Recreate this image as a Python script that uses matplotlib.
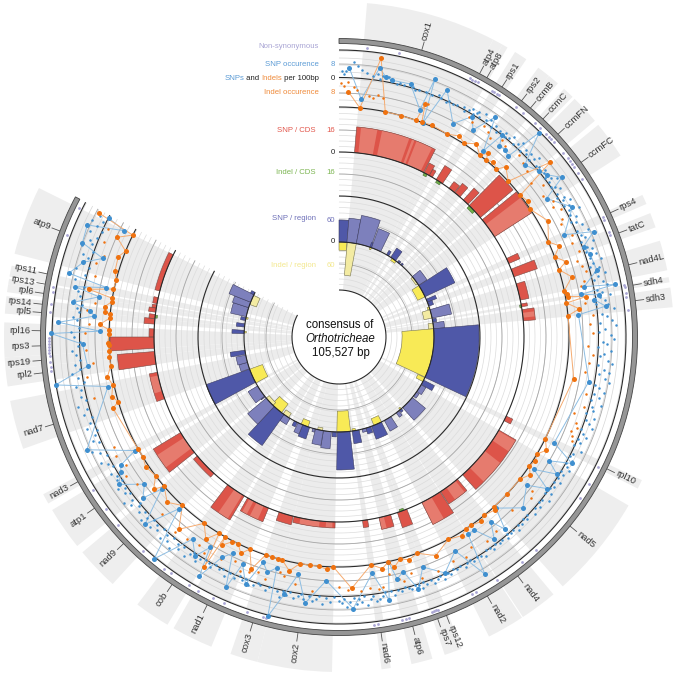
"""Circular plot of SNPs and indels over the Orthotricheae mitogenome consensus."""

import matplotlib

matplotlib.use("Agg")
import matplotlib.pyplot as plt
import numpy as np

plt.rcParams["font.family"] = ["Liberation Sans", "DejaVu Sans"]

# Position along the genome is given in degrees of the circle (0 at the top, clockwise)
SPAN = 298.0

GENES = ["cox1", "atp4", "atp8", "rps1", "rps2", "ccmB", "ccmC", "ccmFN", "ccmFC", "rps4",
         "tatC", "nad4L", "sdh4", "sdh3", "rpl10", "nad5", "nad4", "nad2", "rps12", "rps7",
         "atp6", "nad6", "cox2", "cox3", "nad1", "cob", "nad9", "atp1", "nad3", "nad7",
         "rpl2", "rps19", "rps3", "rpl16", "rpl5", "rps14", "rpl6", "rps13", "rps11", "atp9"]
GENE_START = [4.8, 27.4, 29.2, 31.7, 36.5, 38.8, 42.2, 44.7, 50.7, 64.9,
              68.3, 73.3, 79.7, 81.5, 115.3, 120.2, 140.2, 146.9, 158.5, 160.0,
              163.8, 171.1, 181.2, 194.1, 202.4, 210.8, 222.5, 231.4, 240.2, 250.5,
              261.5, 264.5, 266.5, 270.0, 274.0, 275.7, 277.7, 279.0, 280.4, 284.4]
GENE_END = [27.4, 29.2, 30.2, 34.0, 38.8, 40.8, 44.2, 49.8, 57.2, 66.6,
            70.9, 78.5, 80.6, 84.9, 116.9, 138.1, 146.7, 153.4, 160.0, 161.6,
            167.5, 172.7, 194.1, 198.9, 209.6, 217.0, 230.0, 238.9, 242.0, 259.0,
            264.5, 266.5, 270.0, 272.5, 275.7, 277.0, 279.0, 280.0, 282.3, 296.4]
LABEL_ANGLE = [16.1, 28.1, 29.7, 33.1, 37.7, 39.9, 43.1, 47.2, 54.2, 65.4,
               69.6, 76.0, 80.0, 83.0, 116.2, 129.3, 143.2, 150.2, 158.9, 160.7,
               165.7, 171.9, 187.9, 196.8, 206.2, 214.0, 226.2, 235.0, 241.0, 253.0,
               263.1, 265.5, 268.3, 271.2, 274.7, 276.3, 278.4, 280.2, 282.2, 290.8]

NONSYN = [5.5, 11.9, 26.8, 27.4, 28.0, 28.6, 31.8, 32.4, 33.0, 33.5, 37.5, 39.3, 42.4, 43.9, 45.5,
          46.3, 47.0, 47.8, 50.6, 52.0, 52.7, 53.4, 54.0, 55.6, 57.0, 65.6, 66.1, 68.8, 69.4,
          79.6, 80.1, 81.3, 82.0, 84.6, 116.7, 120.4, 123.7, 137.3, 141.0, 147.0, 151.7, 152.6,
          160.0, 160.4, 160.8, 161.2, 166.0, 166.7, 167.4, 172.3, 173.0, 194.6, 195.2, 198.5,
          203.3, 205.7, 209.0, 211.2, 215.5, 217.0, 222.5, 229.5, 233.6, 238.2, 263.3, 264.0,
          265.0, 266.2, 266.8, 267.4, 268.0, 268.6, 269.2, 269.8, 275.0, 276.5, 279.0, 279.9,
          290.5, 296.5]

# Occurrence tracks, in grid steps above the inner black line of the track
SNP_OCC_THETA = [2.2, 5.3, 8.6, 10.2, 11.6, 15.8, 19.6, 20.4, 21.4, 23.6, 28.1, 31.1, 32.9, 35.4,
                 37.8, 38.9, 40.0, 41.5, 43.1, 44.4, 47.2, 50.3, 52.0, 54.4, 56.3, 60.9, 65.6,
                 67.5, 69.7, 71.8, 75.4, 78.4, 79.2, 80.0, 80.8, 81.7, 83.4, 84.7, 100.1, 116.2,
                 118.5, 120.5, 122.2, 124.2, 126.1, 128.3, 132.9, 137.5, 139.2, 140.6, 142.5,
                 145.0, 146.8, 148.4, 151.5, 155.8, 160.0, 162.5, 164.7, 166.5, 167.6, 169.2,
                 172.0, 177.0, 183.0, 187.3, 189.7, 192.0, 194.3, 195.1, 196.9, 198.6, 200.7,
                 203.0, 204.3, 206.2, 208.0, 210.3, 211.5, 213.3, 215.9, 219.8, 223.0, 226.0,
                 229.4, 230.6, 232.9, 236.2, 238.2, 239.6, 240.9, 245.9, 257.9, 260.4, 263.4,
                 268.4, 270.7, 271.4, 273.0, 274.9, 276.0, 277.4, 279.5, 280.8, 282.0, 283.3,
                 286.3, 288.4, 290.2, 294.0, 296.3, 297.3]
SNP_OCC_VAL = [5.6, 1.3, 6.0, 4.9, 4.6, 4.7, 1.6, 6.5, 0.0, 5.7, 1.7, 3.9, 2.4, 5.7,
               0.8, 4.2, 2.8, 2.9, 2.5, 8.0, 3.3, 4.3, 4.8, 6.3, 2.8, 5.3, 2.5,
               6.5, 4.4, 4.9, 5.2, 2.9, 7.3, 2.3, 4.8, 4.0, 5.5, 1.5, 3.4, 1.4,
               5.0, 2.0, 3.9, 0.8, 3.9, 1.3, 3.0, 0.3, 3.4, 1.3, 3.6,
               0.8, 0.8, 6.9, 1.9, 4.1, 2.1, 4.9, 1.9, 2.7, 0.0, 5.4,
               1.2, 6.0, 2.0, 5.5, 1.5, 4.7, 8.3, 1.3, 2.3, 1.1, 4.9,
               2.4, 6.4, 1.6, 2.8, 6.7, 2.4, 4.6, 2.8, 8.4, 0.7, 5.7,
               0.5, 3.4, 2.0, 5.0, 3.8, 3.3, 0.5, 6.6, 0.9, 8.2, 3.3,
               3.8, 8.3, 1.3, 7.3, 2.2, 2.9, 5.5, 1.9, 5.5, 1.1, 6.8,
               5.2, 2.7, 6.2, 6.5, 1.4, 4.1]

INDEL_OCC_THETA = [2.2, 5.2, 8.6, 11.6, 15.7, 19.6, 20.3, 21.1, 23.6, 28.1, 30.9, 32.8, 35.4, 37.7,
                   39.0, 39.8, 41.4, 43.2, 44.4, 47.4, 50.4, 52.0, 54.3, 56.3, 60.9, 65.6, 67.5,
                   69.6, 71.6, 73.0, 75.5, 78.4, 79.2, 80.0, 80.7, 81.5, 83.3, 84.7, 100.1, 116.2,
                   118.6, 120.6, 122.2, 124.1, 125.8, 128.2, 133.0, 137.6, 137.9, 140.8, 142.4,
                   145.0, 146.5, 148.3, 151.6, 156.1, 160.1, 162.6, 164.6, 166.5, 167.6, 169.4,
                   172.0, 177.1, 181.4, 183.0, 184.9, 187.2, 189.8, 192.0, 194.3, 195.3, 197.0,
                   198.6, 200.7, 202.8, 204.4, 206.0, 207.5, 209.4, 209.7, 210.4, 211.4, 213.4,
                   215.9, 219.8, 222.9, 226.1, 229.5, 230.6, 232.9, 236.1, 238.5, 240.8, 252.5,
                   253.7, 255.3, 258.0, 260.3, 262.8, 265.1, 266.5, 268.0, 268.4, 270.7, 271.8,
                   273.0, 274.7, 275.7, 276.2, 277.4, 278.8, 279.7, 280.8, 282.0, 284.3, 286.4,
                   290.0, 291.9, 294.2, 296.3, 297.3]
INDEL_OCC_VAL = [2.2, 0.0, 7.4, 0.0, 0.0, 0.0, 2.6, 0.0, 0.2, 0.0, 0.6, 0.1, 1.0, 0.0,
                 0.9, 0.0, 0.5, 0.0, 1.2, 0.0, 6.3, 0.0, 0.4, 0.0, 1.3, 0.0, 1.2,
                 0.0, 1.3, 0.0, 1.5, 0.0, 0.3, 0.4, 2.9, 0.0, 1.7, 0.0, 1.2, 0.0,
                 0.9, 0.0, 0.3, 0.0, 0.8, 0.0, 0.0, 0.0, 0.4, 0.0, 0.4,
                 0.0, 0.0, 0.5, 0.0, 1.3, 0.0, 0.5, 0.0, 1.0, 0.0, 0.8,
                 0.0, 3.1, 0.0, 0.4, 0.0, 0.0, 0.0, 1.3, 0.0, 0.0, 0.0,
                 0.0, 2.6, 0.0, 1.1, 0.0, 0.1, 1.3, 0.0, 5.2, 0.0, 1.7,
                 0.0, 2.9, 0.0, 1.2, 0.0, 1.4, 0.0, 0.4, 0.0, 0.0, 1.0,
                 0.0, 0.7, 0.2, 0.7, 0.0, 0.1, 0.0, 0.0, 0.2, 0.0, 0.0,
                 1.4, 0.0, 0.0, 0.8, 0.9, 0.0, 0.0, 3.5, 0.1, 0.0, 0.5,
                 0.7, 0.0, 1.9, 0.0, 5.7]

# SNPs per 100 bp (small blue) and indels per 100 bp (small orange)
SNP_RATE_THETA = [0.6, 1.0, 1.5, 3.2, 4.0, 5.0, 6.0, 7.5, 8.5, 9.0, 9.5, 10.8, 12.0, 13.0, 13.5, 14.5,
                  16.5, 17.0, 18.0, 19.5, 21.0, 22.5, 23.0, 24.5, 25.0, 26.0, 27.0, 28.5, 29.0,
                  29.8, 30.5, 31.0, 31.6, 32.0, 32.5, 33.4, 34.0, 35.0, 36.0, 36.8, 37.5, 38.0, 39.2,
                  39.8, 40.5, 41.2, 42.0, 42.8, 43.5, 44.2, 45.0, 45.6, 46.4, 47.0, 47.6, 48.2, 49.0,
                  49.6, 50.4, 51.0, 51.4, 52.4, 53.0, 53.6, 54.0, 54.8, 55.2, 56.0, 56.8, 57.4, 58.0,
                  58.6, 59.2, 59.8, 60.2, 61.0, 61.6, 62.2, 63.0, 63.6, 64.2, 65.0, 66.0, 66.6, 67.2,
                  68.0, 68.6, 69.0, 70.0, 70.6, 71.0, 72.0, 72.6, 73.2, 73.8, 74.4, 75.0, 75.8, 76.2,
                  76.8, 77.4, 78.0, 78.8, 79.6, 80.4, 81.0, 81.4, 82.0, 82.6, 83.0, 84.0, 85.0, 85.6,
                  86.4, 87.0, 87.6, 88.2, 89.0, 89.6, 90.4, 91.0, 91.6, 92.2, 93.0, 93.6, 94.2, 95.0,
                  95.6, 96.2, 97.0, 97.6, 98.2, 99.0, 99.6, 100.6, 101.2, 102.0, 102.6, 103.2, 104.0,
                  104.8, 105.4, 106.2, 107.0, 107.8, 108.6, 109.2, 110.0, 110.8, 111.6, 112.2, 113.0,
                  113.8, 114.6, 115.4, 116.6, 117.2, 118.0, 119.0, 119.6, 120.2, 121.0, 121.6, 122.8,
                  123.4, 124.0, 125.0, 125.6, 126.6, 127.2, 128.0, 128.8, 129.6, 130.2, 131.0, 132.0,
                  133.4, 134.0, 134.8, 135.6, 136.4, 137.0, 138.0, 138.8, 139.6, 140.0, 141.2, 142.0,
                  143.0, 143.8, 144.4, 145.4, 146.2, 147.0, 147.8, 149.0, 149.6, 150.4, 151.0, 152.2,
                  153.0, 153.8, 154.6, 155.2, 156.4, 157.0, 157.8, 158.6, 159.2, 160.4, 161.0, 161.6,
                  162.2, 163.0, 163.8, 164.4, 165.2, 166.0, 167.0, 167.8, 168.4, 169.8, 170.4, 171.0,
                  171.8, 172.4, 173.0, 173.8, 174.4, 175.0, 175.6, 176.2, 176.8, 177.6, 178.2, 178.8,
                  179.4, 180.0, 181.0, 182.0, 182.8, 183.6, 184.4, 185.0, 185.8, 186.6, 187.8, 188.4,
                  189.0, 190.0, 190.8, 191.6, 192.4, 193.0, 193.8, 195.6, 196.4, 197.6, 198.2, 199.2,
                  200.2, 201.0, 201.8, 202.6, 203.6, 204.8, 205.6, 206.6, 207.4, 208.4, 209.2, 210.0,
                  210.8, 212.0, 212.6, 213.8, 214.4, 215.2, 216.4, 217.2, 218.0, 218.8, 219.4, 220.2,
                  221.0, 221.8, 222.4, 223.4, 224.0, 224.8, 225.4, 226.6, 227.2, 228.0, 228.8, 229.8,
                  230.2, 231.0, 231.8, 232.4, 233.2, 234.0, 234.8, 235.4, 236.6, 237.2, 238.0, 239.0,
                  240.2, 241.2, 242.2, 243.0, 244.0, 245.0, 246.4, 247.0, 248.0, 249.0, 250.0, 251.0,
                  252.0, 253.0, 254.0, 255.0, 256.0, 257.0, 258.4, 259.2, 260.0, 261.0, 262.0, 263.0,
                  264.0, 265.0, 266.0, 267.0, 268.0, 269.0, 270.0, 271.0, 272.0, 273.6, 274.4, 275.4,
                  276.4, 277.0, 278.0, 279.0, 280.0, 281.0, 282.4, 283.8, 284.6, 285.4, 286.6, 287.4,
                  288.0, 289.0, 289.8, 290.6, 291.4, 292.2, 293.0, 293.8, 294.6, 295.4, 296.0, 296.8]
SNP_RATE_VAL = [5.1, 4.7, 5.2, 6.5, 5.9, 5.4, 5.0, 4.8, 5.1, 4.4, 5.0, 4.9, 4.5, 4.2, 4.5, 4.3,
                4.4, 4.1, 4.2, 4.2, 4.1, 4.6, 4.3, 4.1, 4.3, 4.2, 4.4, 4.6, 4.1,
                4.5, 4.9, 4.3, 4.7, 5.0, 4.4, 5.3, 4.6, 4.9, 4.2, 4.7, 4.1, 4.4, 4.8,
                4.3, 4.6, 5.1, 4.2, 4.7, 5.4, 4.3, 4.9, 4.5, 5.0, 4.2, 4.8, 5.5, 4.4,
                4.7, 4.2, 5.1, 4.6, 4.3, 5.0, 4.5, 5.7, 4.2, 4.8, 5.3, 4.4, 4.1, 5.0,
                4.6, 5.6, 4.3, 5.0, 4.7, 6.1, 4.5, 5.2, 4.2, 4.8, 5.5, 4.4, 5.9, 4.6,
                5.1, 4.2, 6.0, 4.9, 5.4, 4.4, 5.8, 4.7, 6.2, 5.0, 4.3, 5.6, 4.8, 6.3,
                5.2, 4.4, 5.7, 6.1, 4.6, 5.3, 6.4, 4.9, 5.5, 4.2, 5.9, 6.6, 4.8, 5.6,
                6.2, 4.5, 6.8, 5.2, 4.3, 6.0, 6.5, 4.9, 5.5, 4.2, 6.1, 5.1, 4.6, 5.7,
                6.4, 4.4, 5.3, 6.0, 4.7, 5.6, 6.2, 4.3, 5.0, 5.8, 4.5, 5.3, 4.2,
                5.9, 4.6, 5.0, 4.1, 5.4, 4.4, 4.9, 5.6, 4.2, 4.7, 5.2, 4.3,
                4.8, 4.1, 5.4, 4.5, 4.2, 4.9, 4.3, 4.6, 5.1, 4.2, 4.7, 4.4,
                5.0, 4.2, 4.6, 4.3, 4.8, 4.1, 5.2, 4.4, 4.2, 4.7, 4.3, 4.9,
                4.2, 4.5, 4.1, 4.6, 4.3, 4.8, 4.2, 4.4, 4.1, 4.7, 4.3, 4.5,
                4.2, 4.6, 4.3, 4.1, 4.8, 4.4, 4.2, 4.5, 4.1, 4.3, 4.7, 4.2,
                4.4, 4.1, 4.6, 4.3, 4.8, 4.2, 4.5, 4.9, 4.3, 4.6, 4.2, 5.0,
                4.4, 4.2, 4.7, 4.3, 4.1, 4.5, 4.3, 4.8, 4.2, 4.1, 4.6, 5.0,
                5.3, 4.4, 4.9, 5.6, 4.3, 5.1, 4.7, 5.4, 4.5, 5.0, 5.7, 4.6,
                5.2, 4.8, 4.3, 5.0, 4.5, 5.3, 4.2, 4.7, 5.1, 4.4, 4.9, 4.3,
                4.6, 5.0, 4.2, 4.7, 4.3, 5.2, 4.5, 4.2, 4.8, 4.3, 4.1, 4.6,
                4.9, 4.2, 4.5, 4.1, 4.7, 4.3, 5.0, 4.2, 4.5, 4.1, 4.8, 4.4,
                4.2, 4.6, 5.2, 4.3, 4.8, 5.5, 4.4, 5.1, 4.6, 5.9, 4.3, 5.3,
                4.7, 5.6, 4.2, 5.0, 4.5, 5.4, 4.3, 4.8, 5.7, 4.4, 5.1, 4.6,
                4.2, 5.3, 4.7, 5.9, 4.4, 5.0, 4.6, 5.5, 4.2, 4.9, 4.5, 5.2,
                4.3, 4.8, 5.6, 4.4, 5.1, 6.0, 4.5, 5.3, 4.7, 4.2, 5.5, 4.8,
                4.3, 5.2, 4.6, 5.8, 4.4, 5.0, 4.7, 5.4, 4.2, 4.9, 5.6, 4.4,
                5.1, 4.3, 4.8, 5.3, 4.5, 4.1, 5.0, 5.5, 4.3, 4.7, 5.2, 4.4,
                4.8, 4.2, 5.4, 4.6, 5.0, 4.3, 5.7, 4.5, 6.0, 4.2, 5.2, 4.7,
                5.6, 4.3, 6.1, 4.9, 5.3, 4.5, 5.8, 4.2, 5.1, 6.2, 4.6, 5.4]

INDEL_RATE_THETA = [0.4, 1.2, 2.0, 3.4, 4.2, 7.0, 8.0, 9.2, 10.4, 20.8, 30.6, 31.8, 34.4, 36.0, 37.2, 39.6,
                    41.0, 44.8, 46.6, 48.6, 51.2, 53.4, 55.4, 57.6, 58.8, 60.0, 62.0, 63.0, 66.4,
                    68.0, 70.4, 72.2, 73.6, 75.0, 77.0, 78.0, 82.2, 85.0, 87.0, 89.0, 92.0, 94.0, 96.0,
                    98.0, 103.0, 106.0, 108.0, 110.0, 111.0, 112.0, 113.0, 114.0, 128.6, 130.0, 135.0,
                    139.0, 141.0, 144.0, 148.0, 150.0, 153.0, 157.0, 161.0, 163.0, 165.0, 166.0, 168.0,
                    170.0, 171.0, 173.0, 175.0, 178.0, 180.0, 186.0, 190.0, 193.0, 194.0, 197.0, 199.0,
                    201.0, 203.0, 205.0, 208.0, 212.0, 214.0, 217.0, 220.0, 225.0, 231.0, 234.0, 237.0,
                    239.0, 242.0, 244.0, 256.0, 261.0, 264.0, 267.0, 271.0, 273.0, 276.0, 278.0, 281.0,
                    284.0, 287.0, 289.0, 292.0, 295.0]
INDEL_RATE_VAL = [3.4, 3.0, 3.6, 2.9, 2.5, 1.9, 1.6, 2.2, 1.8, 2.8, 3.6, 3.2, 3.7, 3.4, 2.9, 3.6,
                  3.3, 3.7, 3.4, 3.0, 2.3, 3.5, 2.6, 3.4, 2.9, 3.7, 3.2, 2.7, 3.5,
                  3.0, 3.6, 2.8, 3.3, 3.7, 3.0, 2.5, 2.6, 3.6, 3.0, 3.4, 2.8, 3.5, 3.1,
                  2.7, 3.3, 3.6, 2.5, 3.1, 3.5, 2.9, 3.3, 3.6, 2.4, 3.0, 2.1,
                  3.4, 2.8, 3.1, 2.6, 3.5, 3.0, 3.4, 3.6, 2.4, 3.2, 2.7, 1.8,
                  3.4, 3.6, 3.2, 3.5, 3.3, 2.8, 3.6, 3.0, 2.2, 1.7, 3.3, 2.6,
                  3.1, 3.5, 2.4, 3.0, 3.5, 2.9, 3.3, 3.6, 3.0, 3.4, 2.8, 3.5,
                  2.6, 3.3, 2.9, 3.2, 3.6, 2.5, 3.3, 3.5, 2.9, 3.4, 2.4, 3.7,
                  3.1, 3.5, 2.7, 3.3, 3.6]

# SNP / CDS bars, height in grid steps above the CDS baseline
CDS_START = [4.8, 27.4, 29.2, 31.7, 36.5, 38.8, 42.2, 44.7, 50.7, 64.9, 68.5, 73.3, 79.7, 81.5,
             115.3, 120.2, 140.2, 146.9, 158.5, 163.8, 171.1, 181.2, 194.3, 202.4, 210.8, 222.5,
             231.4, 250.5, 261.5, 266.5, 270.0, 274.0, 275.7, 277.7, 279.0, 280.4, 284.4]
CDS_END = [27.2, 29.2, 30.3, 34.0, 38.6, 40.8, 44.2, 49.8, 57.2, 66.6, 71.0, 78.5, 80.6, 85.0,
           116.9, 138.1, 146.7, 153.4, 161.6, 167.5, 172.7, 194.0, 198.9, 209.6, 217.0, 230.0,
           238.9, 259.0, 265.5, 270.0, 272.5, 275.7, 277.0, 279.0, 280.0, 282.3, 296.4]
CDS_SNP = [4.7, 2.0, 1.3, 3.0, 1.5, 2.2, 2.9, 7.8, 8.0, 2.2, 4.5, 1.6, 1.1, 2.2,
           1.3, 3.6, 2.7, 4.5, 2.9, 2.2, 1.3, 1.1, 1.6, 2.7, 5.1, 0.9,
           5.8, 1.5, 6.8, 8.0, 0.9, 1.9, 1.1, 1.3, 0.8, 0.8, 0.9]
CDS_LIGHT_START = [6.0, 11.8, 20.3, 21.6, 52.5, 82.5, 120.5, 128.0, 141.0, 150.0, 166.0,
                   182.0, 186.0, 204.0, 207.5, 211.5, 233.0, 253.0]
CDS_LIGHT_END = [10.5, 19.5, 21.0, 26.2, 57.2, 84.0, 124.0, 135.0, 144.5, 153.4, 167.5,
                 184.0, 192.0, 206.5, 209.0, 214.5, 237.0, 258.0]
CDS_LIGHT_TOP = [4.7, 4.7, 4.7, 4.7, 8.0, 2.2, 3.6, 3.6, 2.7, 4.5, 2.2,
                 1.1, 1.1, 2.7, 2.7, 5.1, 5.8, 1.5]
INDEL_CDS_START = [27.4, 32.0, 44.8, 80.0, 159.5, 275.9]
INDEL_CDS_END = [28.5, 33.4, 47.2, 80.9, 160.8, 276.8]
INDEL_CDS_VAL = [0.5, 0.5, 0.6, 0.3, 0.4, 0.4]

# SNP / region bars in grid steps from the region baseline; REGION_DARK marks intergenic regions
REGION_START = [0.0, 4.8, 10.5, 19.0, 20.0, 30.0, 33.0, 38.0, 40.5, 50.5, 57.2, 66.6, 68.5, 73.3,
                79.0, 81.5, 85.0, 117.0, 120.2, 125.5, 129.5, 139.0, 141.0, 146.9, 153.5, 160.5,
                163.5, 167.8, 173.4, 181.5, 184.6, 189.5, 194.5, 198.0, 202.4, 206.0, 211.0,
                215.3, 223.0, 231.0, 231.6, 241.5, 250.5, 254.5, 259.5, 272.0, 276.0, 280.0,
                282.4, 288.0, 291.5, 296.4]
REGION_END = [4.8, 10.5, 19.5, 20.0, 26.0, 31.5, 36.5, 39.5, 41.5, 57.0, 64.9, 68.5, 71.0, 78.5,
              81.0, 85.0, 115.2, 120.0, 125.0, 128.5, 138.0, 140.5, 143.0, 151.5, 160.0, 163.5,
              166.0, 172.0, 181.0, 184.0, 189.4, 194.3, 196.0, 202.4, 205.5, 208.0, 215.5,
              223.0, 230.0, 231.4, 239.0, 250.3, 254.5, 259.0, 262.0, 274.0, 278.0, 281.8,
              288.0, 291.5, 296.4, 298.0]
REGION_SNP = [4.0, 4.4, 5.2, 0.9, 3.7, 0.9, 2.0, 0.4, 0.4, 1.8, 6.0, 1.8, 0.9, 3.6,
              0.7, 2.0, 8.2, 2.2, 1.0, 0.6, 3.1, 0.5, 1.0, 2.2, 2.5, 1.1,
              0.6, 2.3, 6.9, 0.9, 3.1, 2.7, 0.6, 2.2, 1.8, 0.9, 1.3,
              6.9, 4.4, 0.9, 2.0, 8.4, 1.6, 1.8, 2.7, 2.2, 1.5, 0.9,
              2.9, 3.1, 4.2, 0.7]
REGION_DARK = [1, 0, 0, 1, 0, 1, 1, 1, 1, 0, 1, 1, 1, 0,
               1, 0, 1, 1, 0, 0, 0, 1, 0, 0, 1, 1,
               0, 1, 1, 1, 0, 0, 0, 1, 0, 1, 0,
               1, 0, 1, 0, 1, 0, 0, 1, 1, 1, 1,
               0, 0, 0, 1]
INDEL_REGION_START = [0.0, 5.0, 19.0, 34.0, 50.8, 57.2, 71.5, 73.3, 81.5, 85.0, 115.3, 139.0, 153.4,
                      170.0, 173.0, 190.0, 199.0, 212.0, 217.2, 224.0, 241.0, 272.5, 281.0, 290.0]
INDEL_REGION_END = [4.8, 10.5, 20.0, 37.0, 56.0, 65.0, 73.0, 78.5, 85.0, 115.0, 118.0, 140.0, 158.5,
                    172.0, 181.3, 193.0, 203.5, 216.0, 225.0, 230.0, 250.2, 273.5, 282.0, 296.0]
INDEL_REGION_VAL = [1.5, 6.0, 0.4, 0.5, 0.4, 1.5, 0.4, 1.5, 0.9, 5.8, 1.4, 0.4, 1.3,
                    0.4, 3.8, 0.5, 1.1, 0.9, 2.0, 0.7, 2.5, 0.4, 0.4, 1.3]
INDEL_REGION_DARK = [1, 0, 1, 1, 0, 1, 1, 0, 0, 1, 1, 1, 1,
                     1, 1, 0, 1, 0, 1, 0, 1, 1, 1, 0]

CENTER_X, CENTER_Y = 339, 337
RMAX = 345
OCC_BASE = 230.0
OCC_STEP = 7.0
CDS_BASE = 185.0
REGION_BASE = 95.0
STEP = 5.5

RED = "#dd5449"
RED_LIGHT = "#e67b6e"
BLUE_DARK = "#4f58a8"
BLUE_LIGHT = "#7d80bc"
YELLOW_DARK = "#f8ea56"
YELLOW_LIGHT = "#f3eba2"
SNP_BLUE = "#3f8fcf"
INDEL_ORANGE = "#ef7210"


def arc(ax, r, color, lw, zorder=2):
    t = np.radians(np.linspace(0, SPAN, 900))
    ax.plot(t, np.full_like(t, r), color=color, lw=lw, zorder=zorder, solid_capstyle="butt")


def sector(ax, start, end, r0, r1, **kw):
    start, end = np.radians(start), np.radians(end)
    return ax.bar((start + end) / 2, r1 - r0, width=end - start, bottom=r0, **kw)


def add_text(x, y, s, **kw):
    return fig.text(x / 675, 1 - y / 675, s, va="center", **kw)


fig = plt.figure(figsize=(6.75, 6.75), dpi=100)
side = 2 * RMAX / 675
ax = fig.add_axes([(CENTER_X - RMAX) / 675, (675 - CENTER_Y - RMAX) / 675, side, side],
                  projection="polar")
ax.set_theta_zero_location("N")
ax.set_theta_direction(-1)
ax.set_rlim(0, RMAX)
ax.set_axis_off()

# gene sectors, inside the tracks and outside the ring
for s, e in zip(GENE_START, GENE_END):
    sector(ax, s, e, 47, 287, color="#ececec", lw=0, zorder=0)
    sector(ax, s, e, 298, 335, color="#eeeeee", lw=0, zorder=0)

# grid circles
for r in np.arange(47 + STEP, 141, STEP):
    arc(ax, r, "#dcdcdc", 0.5, zorder=1)
for r in np.arange(141 + STEP, 230, STEP):
    arc(ax, r, "#dcdcdc", 0.5, zorder=1)
for r in np.arange(OCC_BASE + OCC_STEP, 287, OCC_STEP):
    arc(ax, r, "#d6d6d6", 0.5, zorder=1)
for r in [73, 117, 163, 207, 244, 273]:
    arc(ax, r, "#a8a8a8", 0.6, zorder=1)

# region track
for s, e, v, d in zip(INDEL_REGION_START, INDEL_REGION_END, INDEL_REGION_VAL, INDEL_REGION_DARK):
    sector(ax, s, e, REGION_BASE - v * STEP, REGION_BASE, facecolor=YELLOW_DARK if d else YELLOW_LIGHT,
           edgecolor="#77744f", lw=0.4, zorder=3)
for s, e, v, d in zip(REGION_START, REGION_END, REGION_SNP, REGION_DARK):
    sector(ax, s, e, REGION_BASE, REGION_BASE + v * STEP, facecolor=BLUE_DARK if d else BLUE_LIGHT,
           edgecolor="#3c3c60", lw=0.4, zorder=3)

# CDS track
for s, e, v in zip(CDS_START, CDS_END, CDS_SNP):
    sector(ax, s, e, CDS_BASE, CDS_BASE + v * STEP, facecolor=RED, lw=0, zorder=3)
for s, e, v in zip(CDS_LIGHT_START, CDS_LIGHT_END, CDS_LIGHT_TOP):
    sector(ax, s, e, CDS_BASE, CDS_BASE + v * STEP, facecolor=RED_LIGHT, lw=0, zorder=3)
for s, e, v in zip(CDS_START, CDS_END, CDS_SNP):
    sector(ax, s, e, CDS_BASE, CDS_BASE + v * STEP, facecolor="none", edgecolor="#7a4a44",
           lw=0.4, zorder=3)
for s, e, v in zip(INDEL_CDS_START, INDEL_CDS_END, INDEL_CDS_VAL):
    sector(ax, s, e, CDS_BASE - v * STEP, CDS_BASE, facecolor="#6fb04a", edgecolor="#4c6e38",
           lw=0.4, zorder=3)

# black axis circles and the outer ring
for r in [47, REGION_BASE, 141, CDS_BASE, OCC_BASE, 259.5, 287]:
    arc(ax, r, "#2a2a2a", 0.8, zorder=4)
sector(ax, 0, SPAN, 293.5, 298.5, facecolor="#969696", edgecolor="#444444", lw=0.6, zorder=4)

# occurrence tracks
snp_order = np.argsort(SNP_OCC_THETA)
indel_order = np.argsort(INDEL_OCC_THETA)
snp_t = np.radians(SNP_OCC_THETA)[snp_order]
snp_r = OCC_BASE + np.array(SNP_OCC_VAL)[snp_order] * OCC_STEP
indel_t = np.radians(INDEL_OCC_THETA)[indel_order]
indel_r = OCC_BASE + np.array(INDEL_OCC_VAL)[indel_order] * OCC_STEP

ax.plot(snp_t, snp_r, color="#8dbde2", lw=0.7, zorder=5)
ax.plot(indel_t, indel_r, color="#f5ab70", lw=0.7, zorder=5)
ax.scatter(np.radians(SNP_RATE_THETA), OCC_BASE + np.array(SNP_RATE_VAL) * OCC_STEP, s=3.2,
           color=SNP_BLUE, lw=0, zorder=5)
ax.scatter(np.radians(INDEL_RATE_THETA), OCC_BASE + np.array(INDEL_RATE_VAL) * OCC_STEP, s=3.2,
           color=INDEL_ORANGE, lw=0, zorder=5)
ax.scatter(snp_t, snp_r, s=13, color=SNP_BLUE, lw=0, zorder=6)
ax.scatter(indel_t, indel_r, s=13, color=INDEL_ORANGE, lw=0, zorder=6)
ax.scatter(np.radians(NONSYN), np.full(len(NONSYN), 290), s=4, color="#a9a5d4", lw=0, zorder=5)

# gene labels on radial leader lines
for name, a in zip(GENES, LABEL_ANGLE):
    t = np.radians(a)
    ax.plot([t, t], [298.5, 307], color="#555555", lw=0.6, zorder=3)
    if a < 180:
        ax.text(t, 309, name, rotation=90 - a, rotation_mode="anchor", ha="left", va="center",
                fontsize=6.8, color="#333333", zorder=7)
    else:
        ax.text(t, 309, name, rotation=270 - a, rotation_mode="anchor", ha="right", va="center",
                fontsize=6.8, color="#333333", zorder=7)

# track legend, left of the start of the circle
FS = 5.6
add_text(319, 47, "Non-synonymous", ha="right", fontsize=FS, color="#a9a5d4")
add_text(319, 64, "SNP occurence", ha="right", fontsize=FS, color="#5b9bd5")
add_text(319, 93, "Indel occurence", ha="right", fontsize=FS, color="#ef8a3a")
add_text(316, 130, "SNP / CDS", ha="right", fontsize=FS, color="#e2574c")
add_text(316, 173, "Indel / CDS", ha="right", fontsize=FS, color="#7cb552")
add_text(316, 219, "SNP / region", ha="right", fontsize=FS, color="#6e70b8")
add_text(316, 266, "Indel / region", ha="right", fontsize=FS, color="#f3e88e")
for y, s, c in [(64, "8", "#5b9bd5"), (78, "0", "#222222"), (93, "8", "#ef8a3a"),
                (130, "16", "#e2574c"), (152, "0", "#222222"), (173, "16", "#7cb552"),
                (220, "60", "#6e70b8"), (242, "0", "#222222"), (266, "60", "#f3e88e")]:
    add_text(335, y, s, ha="right", fontsize=FS, color=c)

# mixed colour legend line, built right to left
renderer = fig.canvas.get_renderer()
x = 319.0
for s, c in [(" per 100bp", "#222222"), ("Indels", "#ef8a3a"), (" and ", "#222222"), ("SNPs", "#5b9bd5")]:
    tx = add_text(x, 78, s.replace(" ", "\u00a0"), ha="right", fontsize=FS, color=c)
    x -= tx.get_window_extent(renderer).width

add_text(340, 325, "consensus of", ha="center", fontsize=8.3, color="#111111")
add_text(340, 339, "Orthotricheae", ha="center", fontsize=8.3, style="italic", color="#111111")
add_text(341, 353, "105,527 bp", ha="center", fontsize=8.3, color="#111111")

fig.savefig("out.png", dpi=100)
plt.close(fig)
